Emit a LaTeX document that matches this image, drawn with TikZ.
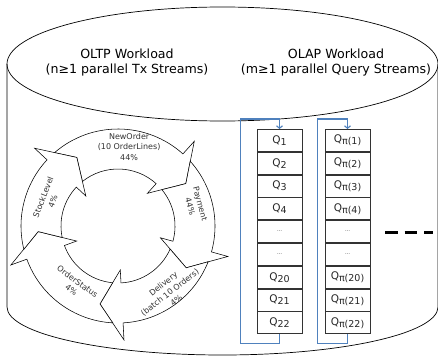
\documentclass[tikz,border=0pt]{standalone}
\usepackage{fontspec}
\setmainfont{DejaVu Sans}
\usepackage{xcolor}
\usepackage{tikz}
\usetikzlibrary{arrows.meta}
\usetikzlibrary{positioning}

\definecolor{loopblue}{RGB}{79,129,189}
\tikzset{
  qbox/.style={draw=black!80, line width=0.8pt, minimum width=45pt, minimum height=22pt, inner sep=0pt, font=\fontsize{10.5}{12}\selectfont, text=black!85},
  cycarrow/.style={draw=black, fill=white, line width=0.55pt, line join=miter},
  cyclabel/.style={font=\fontsize{8}{10.5}\selectfont, align=center, text=black!80, inner sep=0pt},
  qloop/.style={draw=loopblue, line width=1.1pt, -{Straight Barb[length=2.5pt,width=6pt]}},
  title/.style={font=\fontsize{12.6}{15}\selectfont, align=center},
}
\newcommand{\qsub}[1]{Q\raisebox{-2pt}{\fontsize{9.5}{11}\selectfont #1}}
\newcommand{\qpi}[1]{\qsub{π(#1)}}
\newcommand{\qdots}{{\fontsize{5}{6}\selectfont …}}

\begin{document}
\begin{tikzpicture}[x=1pt, y=1pt]
  \useasboundingbox (0,0) rectangle (438,357);
  % database cylinder
  \draw[line width=0.7pt] (7,293) -- (7,50) arc[start angle=180, end angle=360, x radius=215.5, y radius=48] -- (438,293);
  \draw[line width=0.7pt] (222.5,293) ellipse[x radius=215.5, y radius=57];
  \node[title] (oltp) at (127,294) {OLTP Workload\\(n≥1 parallel Tx Streams)};
  \node[title] (olap) at (336,294) {OLAP Workload\\(m≥1 parallel Query Streams)};
  % transaction cycle
  \begin{scope}[shift={(118,131)}]
    \foreach \t/\b in {137/48, 48/-15.5, -15.5/-87, 273/200, 200/137}
      \draw[cycarrow] ({\t-6.1}:97) arc[start angle={\t-6.1}, end angle=\b, radius=97]
        -- (\b:114) -- ({\b-16}:80) -- (\b:44) -- (\b:57)
        arc[start angle=\b, end angle={\t-8.4}, radius=57] -- ({\t-16}:80) -- cycle;
    \node[cyclabel] (neworder) at (82:80) {NewOrder\\(10 OrderLines)\\44\%};
    \node[cyclabel, rotate=-75] (payment) at (15:80) {Payment\\44\%};
    \node[cyclabel, rotate=38] (delivery) at (-52:84) {Delivery\\(batch 10 Orders)\\4\%};
    \node[cyclabel, rotate=-36] (orderstatus) at (234:74) {OrderStatus\\4\%};
    \node[cyclabel, rotate=69] (stocklevel) at (159:75) {StockLevel\\4\%};
  \end{scope}
  % query streams
  \node[qbox] (q1) at (279.5,216.6) {\qsub{1}};
  \foreach \n/\lab [remember=\n as \p (initially 1)] in {2/{\qsub{2}},3/{\qsub{3}},4/{\qsub{4}},5/\qdots,6/\qdots,7/{\qsub{20}},8/{\qsub{21}},9/{\qsub{22}}}
    \node[qbox, below=0pt of q\p] (q\n) {\lab};
  \node[qbox] (p1) at (347.5,216.6) {\qpi{1}};
  \foreach \n/\lab [remember=\n as \p (initially 1)] in {2/{\qpi{2}},3/{\qpi{3}},4/{\qpi{4}},5/\qdots,6/\qdots,7/{\qpi{20}},8/{\qpi{21}},9/{\qpi{22}}}
    \node[qbox, below=0pt of p\p] (p\n) {\lab};
  \draw[qloop] (q9.south) -- ++(0,-9) -| ([xshift=-16pt,yshift=10pt]q1.north west) -| (q1.north);
  \draw[qloop] (p9.south) -- ++(0,-9) -| ([xshift=-7pt,yshift=10pt]p1.north west) -| (p1.north);
  \draw[line width=3pt, dash pattern=on 12.5pt off 7pt] (385,125) -- (433,125);
\end{tikzpicture}
\end{document}
